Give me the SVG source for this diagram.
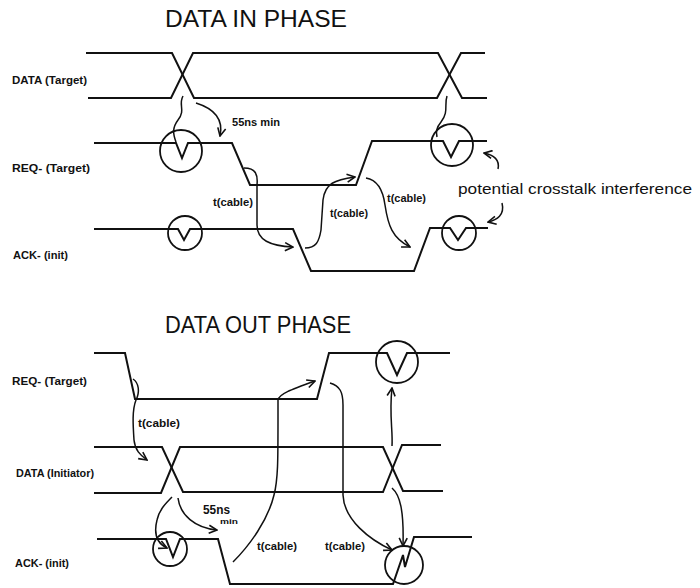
<svg xmlns="http://www.w3.org/2000/svg" width="700" height="588" viewBox="0 0 700 588">
<style>
.sig{fill:none;stroke:#111;stroke-width:2;stroke-linejoin:miter}
.circ{fill:none;stroke:#111;stroke-width:1.8}
.arr{fill:none;stroke:#111;stroke-width:1.5;marker-end:url(#ah)}
.ln{fill:none;stroke:#111;stroke-width:1.5}
.title{font-family:"Liberation Sans",Arial,sans-serif;font-size:24px;fill:#111}
.lbl{font-family:"Liberation Sans",Arial,sans-serif;font-size:10px;font-weight:bold;fill:#111}
.note{font-family:"Liberation Sans",Arial,sans-serif;font-size:14.5px;fill:#111}
</style>
<defs>
<marker id="ah" viewBox="0 0 10 10" refX="9" refY="5" markerWidth="10" markerHeight="10" markerUnits="userSpaceOnUse" orient="auto">
<path d="M1,1 L9,5 L1,9" fill="none" stroke="#111" stroke-width="1.6"/>
</marker>
</defs>
<rect width="700" height="588" fill="#fff"/>

<g id="data-in-phase">
<text class="title" x="165" y="27" textLength="182" lengthAdjust="spacingAndGlyphs">DATA IN PHASE</text>
<g id="in-data">
<text class="lbl" x="12" y="84" textLength="75" lengthAdjust="spacingAndGlyphs">DATA (Target)</text>
<path class="sig" d="M86,53 H172 L194,98 H437 L461,53 H485"/>
<path class="sig" d="M88,98 H171 L193,53 H438 L462,98 H487"/>
</g>
<g id="in-req">
<text class="lbl" x="12" y="172" textLength="78" lengthAdjust="spacingAndGlyphs">REQ- (Target)</text>
<path class="sig" d="M94,143 H176 L182,158 L188,143 H232 L250,185 H356 L372,141 H443 L451,157 L459,141 H487"/>
<circle class="circ" cx="181" cy="151" r="21"/>
<circle class="circ" cx="452" cy="145" r="21"/>
</g>
<g id="in-ack">
<text class="lbl" x="13" y="259" textLength="55" lengthAdjust="spacingAndGlyphs">ACK- (init)</text>
<path class="sig" d="M94,229 H178 L184,240 L190,229 H293 L311,271 H414 L430,228 H450 L458,240 L466,228 H488"/>
<circle class="circ" cx="185" cy="233" r="17"/>
<circle class="circ" cx="459" cy="233" r="17"/>
</g>
<g id="in-notes">
<text class="lbl" x="232" y="126" textLength="48" lengthAdjust="spacingAndGlyphs">55ns min</text>
<text class="lbl" x="213" y="206" textLength="40" lengthAdjust="spacingAndGlyphs">t(cable)</text>
<text class="lbl" x="330" y="217" textLength="38" lengthAdjust="spacingAndGlyphs">t(cable)</text>
<text class="lbl" x="387" y="202" textLength="39" lengthAdjust="spacingAndGlyphs">t(cable)</text>
<text class="note" x="458" y="194" textLength="234" lengthAdjust="spacingAndGlyphs">potential crosstalk interference</text>
</g>
</g>

<g id="data-out-phase">
<text class="title" x="165" y="333" textLength="186" lengthAdjust="spacingAndGlyphs">DATA OUT PHASE</text>
<g id="out-req">
<text class="lbl" x="12" y="385" textLength="75" lengthAdjust="spacingAndGlyphs">REQ- (Target)</text>
<path class="sig" d="M94,353 H125 L135,399 H317 L329,353 H387 L397,375 L407,353 H450"/>
<circle class="circ" cx="397" cy="362" r="21"/>
</g>
<g id="out-data">
<text class="lbl" x="16" y="477" textLength="78" lengthAdjust="spacingAndGlyphs">DATA (Initiator)</text>
<path class="sig" d="M94,447 H162 L183,492 H383 L402,445 H441"/>
<path class="sig" d="M94,493 H161 L180,447 H383 L403,491 H443"/>
</g>
<g id="out-ack">
<text class="lbl" x="15" y="567" textLength="54" lengthAdjust="spacingAndGlyphs">ACK- (init)</text>
<path class="sig" d="M97,539 H166 L173,557 L180,539 H218 L230,584 H393 L403,555 L405,567 L414,537 H472"/>
<circle class="circ" cx="170" cy="549" r="17"/>
<circle class="circ" cx="404" cy="565" r="19"/>
</g>
<g id="out-notes">
<text class="lbl" x="138" y="427" textLength="42" lengthAdjust="spacingAndGlyphs">t(cable)</text>
<text class="lbl" x="203" y="514" font-size="13" style="font-size:13px" textLength="27" lengthAdjust="spacingAndGlyphs">55ns</text>
<text class="lbl" x="220" y="524" style="font-size:8px" textLength="18" lengthAdjust="spacingAndGlyphs">min</text>
<text class="lbl" x="257" y="550" textLength="40" lengthAdjust="spacingAndGlyphs">t(cable)</text>
<text class="lbl" x="325" y="550" textLength="40" lengthAdjust="spacingAndGlyphs">t(cable)</text>
</g>
</g>

<g id="connectors">
<path class="ln" d="M183,96 C178,105 186,110 178,120 C172,128 173,134 176,142"/>
<path class="ln" d="M447,96 C444,105 449,112 441,122 C436,128 436,132 437,137"/>
<path class="arr" d="M196,103 C212,108 224,118 220,136"/>
<path class="arr" d="M244,168 C256,168 258,175 257,185 L257,225 C257,240 270,246 293,247"/>
<path class="arr" d="M305,248 C316,248 319,242 321,230 L323,200 C325,183 335,180 355,177"/>
<path class="arr" d="M366,178 C378,180 383,190 385,205 C388,225 392,238 410,247"/>
<path class="arr" d="M498,169 C500,160 494,155 484,153"/>
<path class="arr" d="M502,203 C505,215 497,220 488,222"/>

<path class="arr" d="M133,379 C139,383 140,392 136,400 C132,410 133,425 134,440 C135,450 140,455 147,460"/>
<path class="arr" d="M172,497 C166,503 159,510 157,520 C154,532 156,543 167,548"/>
<path class="arr" d="M178,498 C180,515 195,528 217,530"/>
<path class="arr" d="M233,562 C250,545 268,520 274,495 C278,480 278,460 278,420 L278,400 C279,394 290,390 315,381"/>
<path class="arr" d="M330,383 C340,386 343,392 343,405 L343,495 C344,520 370,540 392,550"/>
<path class="arr" d="M392,488 C400,495 404,510 403,546"/>
<path class="arr" d="M392,446 C393,430 389,415 392,388"/>
</g>
</svg>
